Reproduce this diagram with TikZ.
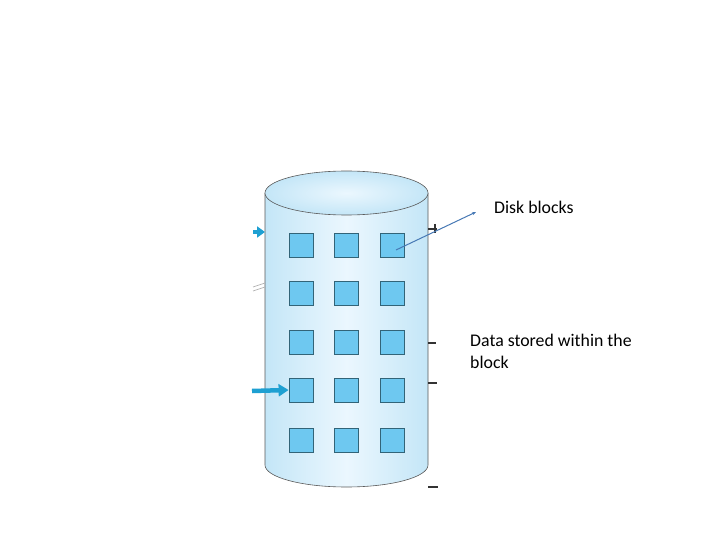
\documentclass[tikz,border=0pt]{standalone}
\usepackage{fontspec}
\setmainfont{Carlito}
\usetikzlibrary{arrows.meta}
\definecolor{cyl}{RGB}{196,230,247}
\definecolor{cylc}{RGB}{235,247,254}
\definecolor{sq}{RGB}{110,200,240}
\definecolor{sqd}{RGB}{50,100,120}
\definecolor{arr}{RGB}{30,160,210}
\definecolor{lead}{RGB}{70,120,180}
\tikzset{blk/.style={draw=sqd,fill=sq,line width=0.8pt,minimum size=24pt,inner sep=0pt},
 lbl/.style={font=\fontsize{17.8pt}{22pt}\selectfont,align=left,anchor=west,inner sep=0pt},
 tick/.style={line width=1.8pt,black!80}}
\begin{document}
\begin{tikzpicture}[x=1pt,y=-1pt]
\useasboundingbox (0,0) rectangle (720,540);
% cylinder
\shade[left color=cyl,right color=cyl,middle color=cylc] (265,193) -- (265,465) arc[start angle=180,end angle=0,x radius=81.5,y radius=22] -- (428,193) -- cycle;
\draw[gray!70!black,line width=0.6pt] (265,193) -- (265,465) arc[start angle=180,end angle=0,x radius=81.5,y radius=22] -- (428,193);
\shade[inner color=cylc,outer color=cyl,draw=gray!70!black,line width=0.6pt] (346.5,193) ellipse[x radius=81.5,y radius=22];
% blocks
\foreach \r/\y in {1/245,2/293,3/342,4/390,5/440}
 \foreach \c/\x in {1/301,2/346,3/392}
  \node[blk] (b\r\c) at (\x,\y) {};
% side marks
\draw[tick] (428,229) -- (437,229); \draw[tick] (435,224) -- (435,233);
\draw[tick] (428,343) -- (436,343);
\draw[tick] (428,383) -- (437,383);
\draw[tick] (428,487) -- (438,487);
\draw[gray!60,line width=0.7pt] (253,287) -- (265,283) (253,291) -- (265,287);
\coordinate (a1) at (253,232);
\draw[-{Triangle[length=8pt,width=11pt]},arr,line width=3pt] (a1) -- (265,232);
\coordinate (a2) at (252,391);
\draw[-{Triangle[length=10pt,width=12pt]},arr,line width=4.5pt] (a2) -- (b41.west);
% labels
\node[lbl] (t1) at (494,207) {Disk blocks};
\node[lbl] (t2) at (470,351) {Data stored within the\\block};
\coordinate (p) at (396,250);
\draw[lead,line width=1pt,-{Stealth[length=4pt]}] (p) -- (476,212);
\end{tikzpicture}
\end{document}
